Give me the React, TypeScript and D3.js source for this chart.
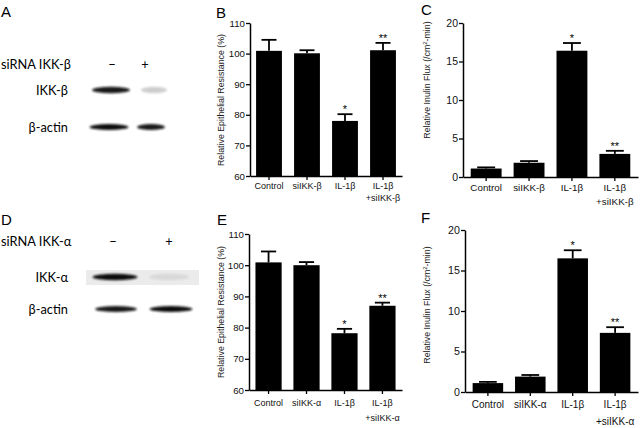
import * as d3 from "d3";
import { useEffect, useRef } from "react";

// bar chart categories (second entry = second text line)
const categoriesBeta = [["Control"], ["siIKK-β"], ["IL-1β"], ["IL-1β", "+siIKK-β"]];
const categoriesAlpha = [["Control"], ["siIKK-α"], ["IL-1β"], ["IL-1β", "+siIKK-α"]];

// B: resistance, IKK-beta knockdown
const resistanceBeta = [100.9, 100.1, 78.0, 101.1];
const resistanceBetaErr = [3.6, 1.0, 2.2, 2.4];
const resistanceBetaStars = ["", "", "*", "**"];

// C: inulin flux, IKK-beta knockdown
const fluxBeta = [1.1, 1.85, 16.4, 3.0];
const fluxBetaErr = [0.15, 0.22, 1.0, 0.4];
const fluxBetaStars = ["", "", "*", "**"];

// E: resistance, IKK-alpha knockdown
const resistanceAlpha = [100.9, 100.0, 78.2, 87.0];
const resistanceAlphaErr = [3.5, 1.0, 1.4, 1.0];
const resistanceAlphaStars = ["", "", "*", "**"];

// F: inulin flux, IKK-alpha knockdown
const fluxAlpha = [1.1, 1.9, 16.5, 7.3];
const fluxAlphaErr = [0.15, 0.2, 1.0, 0.7];
const fluxAlphaStars = ["", "", "*", "**"];

const resistanceTicks = [60, 70, 80, 90, 100, 110];
const fluxTicks = [0, 5, 10, 15, 20];

// western blot band intensities (lane -, lane +)
const blotBetaTarget = [0.95, 0.2];
const blotBetaActin = [1, 0.95];
const blotAlphaTarget = [1, 0.08];
const blotAlphaActin = [0.95, 1];
const lanes = ["−", "+"];

const AXIS_FONT = "'Liberation Sans', Arial, sans-serif";
const BLOT_FONT = "Lato, 'Open Sans', sans-serif";

interface PanelSpec {
	letter: string;
	letterX: number;
	letterY: number;
	x0: number;
	x1: number;
	yTop: number;
	yBottom: number;
	domain: [number, number];
	ticks: number[];
	values: number[];
	errors: number[];
	stars: string[];
	categories: string[][];
	titleX: number;
	titleY: number;
	flux: boolean;
	fontSize: number;
	catDy: [number, number];
	padInner: number;
	padOuter: number;
}

const panels: PanelSpec[] = [
	{
		letter: "B", letterX: 216, letterY: 18,
		x0: 250, x1: 402, yTop: 23, yBottom: 176,
		domain: [60, 110], ticks: resistanceTicks,
		values: resistanceBeta, errors: resistanceBetaErr, stars: resistanceBetaStars,
		categories: categoriesBeta, titleX: 224, titleY: 100, flux: false,
		fontSize: 9, catDy: [13, 25], padInner: 0.32, padOuter: 0.16,
	},
	{
		letter: "C", letterX: 421, letterY: 15,
		x0: 463, x1: 638, yTop: 23, yBottom: 177,
		domain: [0, 20], ticks: fluxTicks,
		values: fluxBeta, errors: fluxBetaErr, stars: fluxBetaStars,
		categories: categoriesBeta, titleX: 430, titleY: 80, flux: true,
		fontSize: 9.8, catDy: [14, 28], padInner: 0.28, padOuter: 0.18,
	},
	{
		letter: "E", letterX: 217, letterY: 225,
		x0: 249, x1: 402, yTop: 234, yBottom: 390,
		domain: [60, 110], ticks: resistanceTicks,
		values: resistanceAlpha, errors: resistanceAlphaErr, stars: resistanceAlphaStars,
		categories: categoriesAlpha, titleX: 224, titleY: 312, flux: false,
		fontSize: 9, catDy: [16, 31], padInner: 0.31, padOuter: 0.17,
	},
	{
		letter: "F", letterX: 421, letterY: 223,
		x0: 465, x1: 638, yTop: 230, yBottom: 392,
		domain: [0, 20], ticks: fluxTicks,
		values: fluxAlpha, errors: fluxAlphaErr, stars: fluxAlphaStars,
		categories: categoriesAlpha, titleX: 430, titleY: 305, flux: true,
		fontSize: 10, catDy: [16, 33], padInner: 0.28, padOuter: 0.18,
	},
];

function drawPanel(svg: d3.Selection<SVGSVGElement, unknown, null, undefined>, p: PanelSpec) {
	const g = svg.append("g");
	const x = d3
		.scaleBand()
		.domain(p.values.map((_, i) => String(i)))
		.range([p.x0, p.x1])
		.paddingInner(p.padInner)
		.paddingOuter(p.padOuter);
	const y = d3.scaleLinear().domain(p.domain).range([p.yBottom, p.yTop]);
	const bw = x.bandwidth();

	// panel letter
	g.append("text")
		.attr("x", p.letterX)
		.attr("y", p.letterY)
		.style("font-family", AXIS_FONT)
		.style("font-size", "15px")
		.attr("fill", "#000")
		.text(p.letter);

	// bars
	g.selectAll(".bar")
		.data(p.values)
		.enter()
		.append("rect")
		.attr("x", (_, i) => x(String(i)) ?? 0)
		.attr("y", (d) => y(d))
		.attr("width", bw)
		.attr("height", (d) => p.yBottom - y(d))
		.attr("fill", "#000");

	// error bars (upper only, Prism style)
	p.values.forEach((v, i) => {
		const cx = (x(String(i)) ?? 0) + bw / 2;
		const top = y(v + p.errors[i]);
		g.append("line")
			.attr("x1", cx).attr("x2", cx)
			.attr("y1", y(v)).attr("y2", top)
			.attr("stroke", "#000").attr("stroke-width", 1.8);
		g.append("line")
			.attr("x1", cx - bw * 0.29).attr("x2", cx + bw * 0.29)
			.attr("y1", top).attr("y2", top)
			.attr("stroke", "#000").attr("stroke-width", 1.8);
		if (p.stars[i]) {
			g.append("text")
				.attr("x", cx)
				.attr("y", top - 1)
				.attr("text-anchor", "middle")
				.style("font-family", AXIS_FONT)
				.style("font-size", "11px")
				.attr("fill", "#000")
				.text(p.stars[i]);
		}
	});

	// y axis
	const yAxis = g
		.append("g")
		.attr("transform", `translate(${p.x0},0)`)
		.call(d3.axisLeft(y).tickValues(p.ticks).tickSize(4).tickSizeOuter(0).tickPadding(1));
	yAxis.select(".domain").attr("stroke-width", 1.5);
	yAxis.selectAll(".tick line").attr("stroke-width", 1.3);
	yAxis
		.selectAll("text")
		.style("font-family", AXIS_FONT)
		.style("font-size", `${p.fontSize + 0.7}px`)
		.attr("fill", "#111");

	// x axis
	const xAxis = g
		.append("g")
		.attr("transform", `translate(0,${p.yBottom})`)
		.call(d3.axisBottom(x).tickSize(4).tickSizeOuter(0).tickFormat(() => ""));
	xAxis.select(".domain").attr("stroke-width", 1.5);
	xAxis.selectAll(".tick line").attr("stroke-width", 1.3);

	p.categories.forEach((lines, i) => {
		const cx = (x(String(i)) ?? 0) + bw / 2;
		lines.forEach((line, j) => {
			g.append("text")
				.attr("x", cx)
				.attr("y", p.yBottom + p.catDy[j])
				.attr("text-anchor", "middle")
				.style("font-family", AXIS_FONT)
				.style("font-size", `${p.fontSize}px`)
				.attr("fill", "#111")
				.text(line);
		});
	});

	// y title
	const title = g
		.append("text")
		.attr("transform", `translate(${p.titleX},${p.titleY}) rotate(-90)`)
		.attr("text-anchor", "middle")
		.style("font-family", AXIS_FONT)
		.style("font-size", "8.8px")
		.attr("fill", "#1a1a1a");
	if (p.flux) {
		title.append("tspan").text("Relative Inulin Flux (/cm");
		title.append("tspan").attr("dy", -3).style("font-size", "6px").text("2");
		title.append("tspan").attr("dy", 3).text("-min)");
	} else {
		title.text("Relative Epithelial Resistance (%)");
	}
}

interface BlotSpec {
	letter: string;
	letterY: number;
	label: string;
	siY: number;
	laneX: number[];
	signY: number;
	target: string;
	targetY: number;
	targetLaneX: number[];
	targetBands: number[];
	targetWidths: number[];
	targetBox: boolean;
	actinY: number;
	actinBands: number[];
	actinLaneX: number[];
	actinWidths: number[];
}

const blots: BlotSpec[] = [
	{
		letter: "A", letterY: 17, label: "siRNA IKK-β", siY: 69, laneX: [112, 145], signY: 69,
		target: "IKK-β", targetY: 90, targetLaneX: [111, 154], targetBands: blotBetaTarget, targetWidths: [38, 26], targetBox: false,
		actinY: 127, actinBands: blotBetaActin, actinLaneX: [109, 151], actinWidths: [39, 28],
	},
	{
		letter: "D", letterY: 225, label: "siRNA IKK-α", siY: 246, laneX: [113, 169], signY: 246,
		target: "IKK-α", targetY: 277, targetLaneX: [115, 169], targetBands: blotAlphaTarget, targetWidths: [45, 40], targetBox: true,
		actinY: 309, actinBands: blotAlphaActin, actinLaneX: [116, 171], actinWidths: [42, 43],
	},
];

function drawBlot(svg: d3.Selection<SVGSVGElement, unknown, null, undefined>, b: BlotSpec) {
	const g = svg.append("g");
	g.append("text")
		.attr("x", 1)
		.attr("y", b.letterY)
		.style("font-family", AXIS_FONT)
		.style("font-size", "15px")
		.text(b.letter);

	const label = (txt: string, xx: number, yy: number, anchor: string) =>
		g.append("text")
			.attr("x", xx)
			.attr("y", yy)
			.attr("text-anchor", anchor)
			.style("font-family", BLOT_FONT)
			.style("font-size", "12.8px")
			.attr("fill", "#000")
			.text(txt);

	label(b.label, 1, b.siY, "start");
	lanes.forEach((s, i) => label(s, b.laneX[i], b.signY, "middle"));
	label(b.target, 68, b.targetY + 5, "end");
	label("β-actin", 68, b.actinY + 5, "end");

	if (b.targetBox) {
		const bx0 = d3.min(b.laneX)! - 27;
		const bx1 = d3.max(b.laneX)! + 30;
		g.append("rect")
			.attr("x", bx0)
			.attr("y", b.targetY - 7)
			.attr("width", bx1 - bx0)
			.attr("height", 15)
			.attr("fill", "#ebebeb");
	}

	b.targetBands.forEach((v, i) => {
		g.append("ellipse")
			.attr("cx", b.targetLaneX[i])
			.attr("cy", b.targetY)
			.attr("rx", b.targetWidths[i] / 2)
			.attr("ry", 3.2)
			.attr("fill", "#111")
			.attr("opacity", v)
			.attr("filter", "url(#blur)");
	});
	b.actinBands.forEach((v, i) => {
		g.append("ellipse")
			.attr("cx", b.actinLaneX[i])
			.attr("cy", b.actinY)
			.attr("rx", b.actinWidths[i] / 2)
			.attr("ry", 3)
			.attr("fill", "#111")
			.attr("opacity", v)
			.attr("filter", "url(#blur)");
	});
}

export default function App() {
	const svgRef = useRef<SVGSVGElement>(null);

	useEffect(() => {
		if (!svgRef.current) return;
		const svg = d3.select(svgRef.current);
		svg.selectAll("*").remove();

		svg.append("defs")
			.append("filter")
			.attr("id", "blur")
			.attr("x", "-20%").attr("y", "-100%")
			.attr("width", "140%").attr("height", "300%")
			.append("feGaussianBlur")
			.attr("stdDeviation", "1.3 1");

		blots.forEach((b) => drawBlot(svg, b));
		panels.forEach((p) => drawPanel(svg, p));
	}, []);

	return (
		<svg
			ref={svgRef}
			width={640}
			height={428}
			style={{ position: "absolute", left: 0, top: 0, background: "#fff" }}
		/>
	);
}
